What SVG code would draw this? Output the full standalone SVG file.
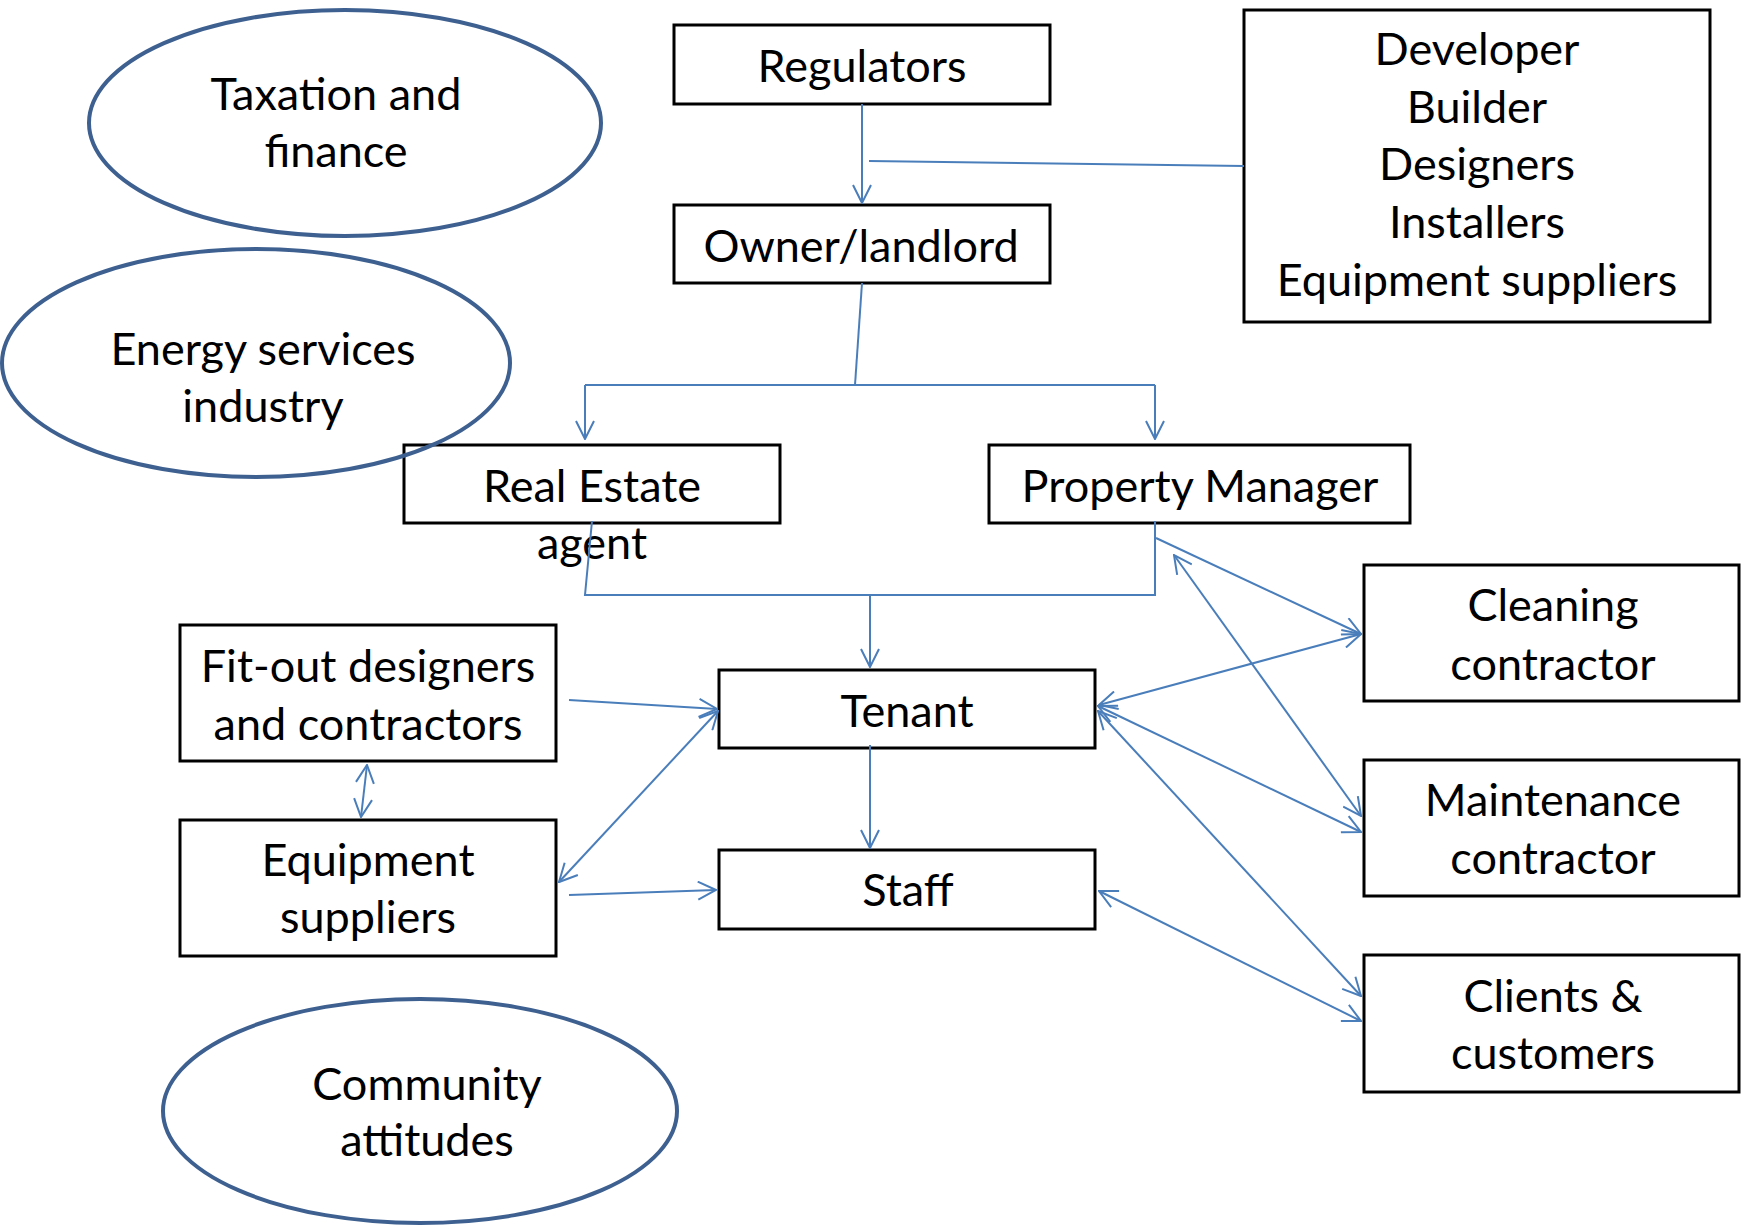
<svg xmlns="http://www.w3.org/2000/svg" width="1742" height="1225" viewBox="0 0 1742 1225">
  <style>
    .box { fill: #ffffff; stroke: #000000; stroke-width: 3; }
    .oval { fill: none; stroke: #3d6090; stroke-width: 4; }
    .lbl { font-family: Lato, "Liberation Sans", sans-serif; font-size: 45px; fill: #000000; text-anchor: middle; }
    .link { fill: none; stroke: #4a7ebb; stroke-width: 2; }
    .one { marker-end: url(#head); }
    .two { marker-start: url(#head); marker-end: url(#head); }
  </style>
  <defs>
    <marker id="head" viewBox="0 0 20 20" refX="19" refY="10" markerWidth="20" markerHeight="20" markerUnits="userSpaceOnUse" orient="auto-start-reverse">
      <path d="M1,1 L19,10 L1,19" fill="none" stroke="#4a7ebb" stroke-width="2"/>
    </marker>
  </defs>

  <!-- rectangular stakeholders -->
  <g id="regulators">
    <rect class="box" x="674" y="25" width="376" height="79"/>
    <text class="lbl" x="862" y="82">Regulators</text>
  </g>
  <g id="owner">
    <rect class="box" x="674" y="205" width="376" height="78"/>
    <text class="lbl" x="861" y="262">Owner/landlord</text>
  </g>
  <g id="developer">
    <rect class="box" x="1244" y="10" width="466" height="312"/>
    <text class="lbl" x="1477" y="65">Developer</text>
    <text class="lbl" x="1477" y="123">Builder</text>
    <text class="lbl" x="1477" y="180">Designers</text>
    <text class="lbl" x="1477" y="238">Installers</text>
    <text class="lbl" x="1477" y="296">Equipment suppliers</text>
  </g>
  <g id="real-estate-agent">
    <rect class="box" x="404" y="445" width="376" height="78"/>
    <text class="lbl" x="592" y="502">Real Estate</text>
    <text class="lbl" x="592" y="559">agent</text>
  </g>
  <g id="property-manager">
    <rect class="box" x="989" y="445" width="421" height="78"/>
    <text class="lbl" x="1200" y="502">Property Manager</text>
  </g>
  <g id="fit-out">
    <rect class="box" x="180" y="625" width="376" height="136"/>
    <text class="lbl" x="368" y="682">Fit-out designers</text>
    <text class="lbl" x="368" y="740">and contractors</text>
  </g>
  <g id="equipment-suppliers">
    <rect class="box" x="180" y="820" width="376" height="136"/>
    <text class="lbl" x="368" y="876">Equipment</text>
    <text class="lbl" x="368" y="933">suppliers</text>
  </g>
  <g id="tenant">
    <rect class="box" x="719" y="670" width="376" height="78"/>
    <text class="lbl" x="907" y="727">Tenant</text>
  </g>
  <g id="staff">
    <rect class="box" x="719" y="850" width="376" height="79"/>
    <text class="lbl" x="908" y="906">Staff</text>
  </g>
  <g id="cleaning">
    <rect class="box" x="1364" y="565" width="375" height="136"/>
    <text class="lbl" x="1553" y="621">Cleaning</text>
    <text class="lbl" x="1553" y="680">contractor</text>
  </g>
  <g id="maintenance">
    <rect class="box" x="1364" y="760" width="375" height="136"/>
    <text class="lbl" x="1553" y="816">Maintenance</text>
    <text class="lbl" x="1553" y="874">contractor</text>
  </g>
  <g id="clients">
    <rect class="box" x="1364" y="955" width="375" height="137"/>
    <text class="lbl" x="1553" y="1012">Clients &amp;</text>
    <text class="lbl" x="1553" y="1069">customers</text>
  </g>

  <!-- oval influences -->
  <g id="taxation">
    <ellipse class="oval" cx="345" cy="123" rx="256" ry="113"/>
    <text class="lbl" x="336" y="110">Taxation and</text>
    <text class="lbl" x="336" y="167">finance</text>
  </g>
  <g id="energy-services">
    <ellipse class="oval" cx="256" cy="363" rx="254" ry="114"/>
    <text class="lbl" x="263" y="365">Energy services</text>
    <text class="lbl" x="263" y="422">industry</text>
  </g>
  <g id="community">
    <ellipse class="oval" cx="420" cy="1111" rx="257" ry="112"/>
    <text class="lbl" x="427" y="1100">Community</text>
    <text class="lbl" x="427" y="1156">attitudes</text>
  </g>

  <!-- connectors -->
  <g id="connectors">
    <path class="link one" d="M862,104 L862,203"/>
    <path class="link" d="M869,161 L1244,166"/>
    <path class="link" d="M862,283 L855,385"/>
    <path class="link" d="M585,385 L1155,385"/>
    <path class="link one" d="M585,385 L585,439"/>
    <path class="link one" d="M1155,385 L1155,439"/>
    <path class="link" d="M592,521 L585,595 L1155,595 L1155,521"/>
    <path class="link one" d="M870,595 L870,667"/>
    <path class="link one" d="M870,745 L870,848"/>
    <path class="link one" d="M569,700 L717,709"/>
    <path class="link two" d="M559,882 L718,711"/>
    <path class="link one" d="M569,895 L716,890"/>
    <path class="link two" d="M367,765 L361,817"/>
    <path class="link one" d="M1156,538 L1361,634"/>
    <path class="link two" d="M1099,705 L1361,634"/>
    <path class="link two" d="M1174,555 L1361,816"/>
    <path class="link two" d="M1098,706 L1361,832"/>
    <path class="link two" d="M1098,711 L1361,996"/>
    <path class="link two" d="M1099,891 L1361,1021"/>
  </g>
</svg>
